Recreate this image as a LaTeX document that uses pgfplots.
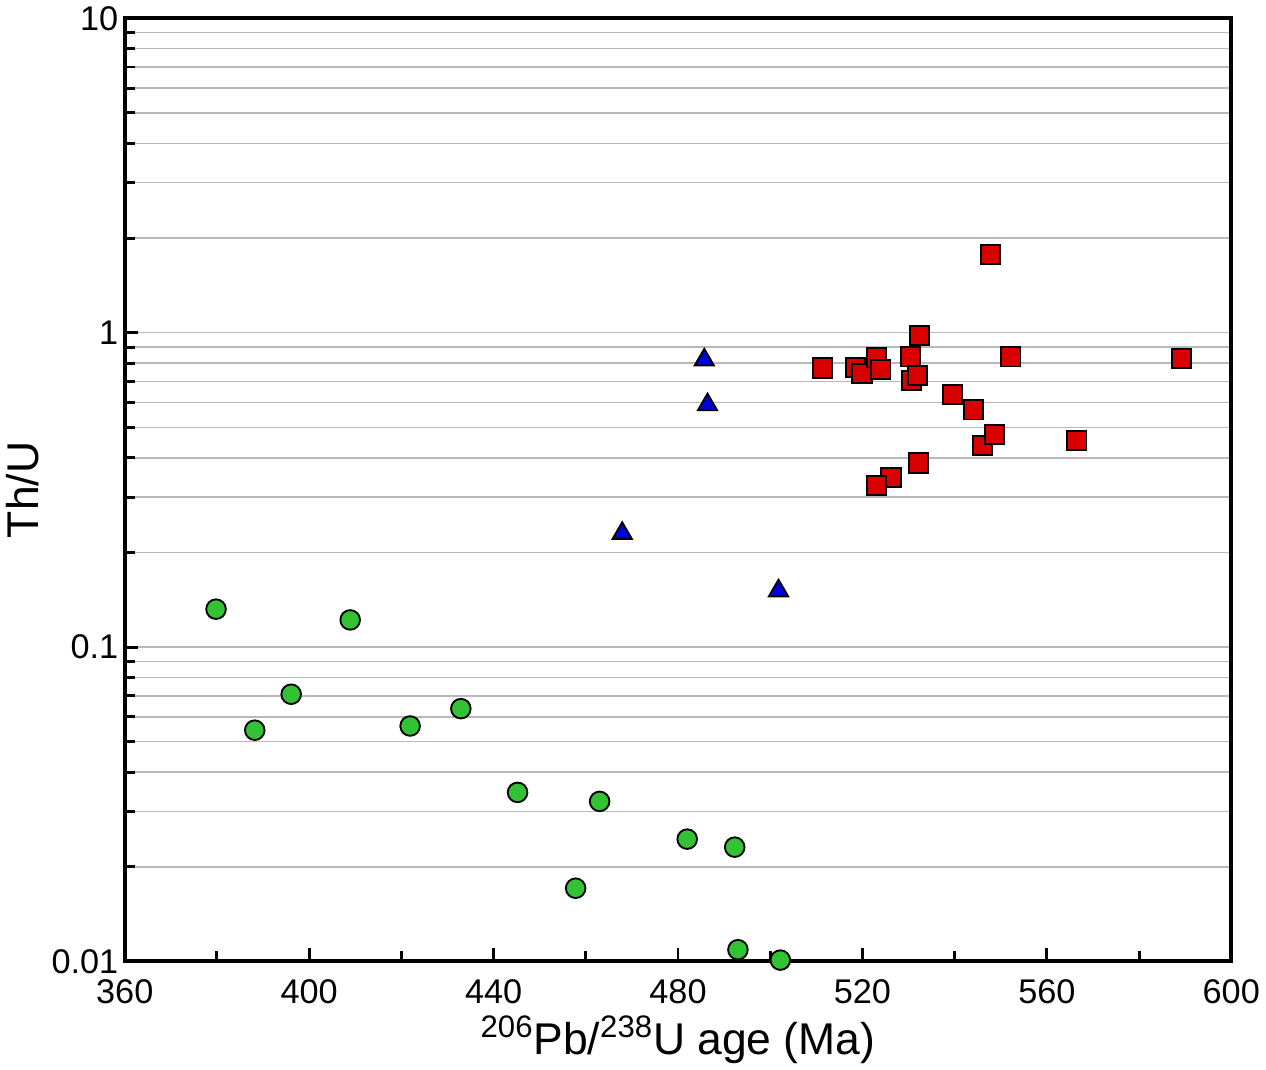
\documentclass[border=0pt]{standalone}
\usepackage{pgfplots}
\pgfplotsset{compat=1.18}
\usepackage{fontspec}
\setmainfont{Liberation Sans}
\begin{document}
\begin{tikzpicture}
\begin{axis}[
  scale only axis, width=21.0cm, height=17.9cm,
  ymode=log, xmin=360, xmax=600, ymin=0.01, ymax=10,
  xtick={360,400,...,600}, minor xtick={380,420,...,580},
  ytick={0.01,0.1,1,10}, yticklabels={0.01,0.1,1,10},
  /pgf/number format/assume math mode=true,
  ymajorgrids=false, yminorgrids=true,
  minor grid style={gray!55, line width=0.8pt},
  axis line style={line width=2.2pt},
  tick style={black, line width=1.6pt},
  major tick length=0.25cm, minor tick length=0.2cm,
  tick align=inside,
  xtick pos=bottom, ytick pos=left,
  ticklabel style={font=\fontsize{18.5}{22}\selectfont},
  label style={font=\fontsize{24}{28}\selectfont},
  xlabel={\textsuperscript{206}Pb/\textsuperscript{238}U age (Ma)},
  ylabel={Th/U},
  xticklabel style={yshift=-6pt},
]
\addplot[only marks, mark=*, mark size=5.3pt, mark options={fill=green!70!black!80, draw=black, line width=1pt}] coordinates {
(379.8,0.132)(388.2,0.0544)(396.1,0.0708)(408.9,0.122)(421.9,0.0561)(432.9,0.0637)
(445.2,0.0345)(463.0,0.0323)(457.8,0.0171)(482.0,0.0245)(492.3,0.0231)(493.0,0.0109)(502.2,0.0101)};
\addplot[only marks, mark=triangle*, mark size=6pt, mark options={fill=blue!85!black, draw=black, line width=1pt}] coordinates {
(485.7,0.819)(486.4,0.590)(467.9,0.230)(501.8,0.151)};
\addplot[only marks, mark=square*, mark size=5.2pt, mark options={fill=red!85!black, draw=black, line width=1pt}] coordinates {
(547.8,1.77)(532.4,0.98)(511.3,0.772)(518.5,0.775)(519.9,0.743)(523.0,0.832)(524.0,0.765)
(530.4,0.838)(530.6,0.706)(532.0,0.730)(539.6,0.636)(544.1,0.568)(546.0,0.438)(548.7,0.475)
(552.2,0.838)(566.5,0.454)(589.2,0.826)(532.2,0.385)(526.2,0.347)(523.1,0.327)};
\end{axis}
\end{tikzpicture}
\end{document}
